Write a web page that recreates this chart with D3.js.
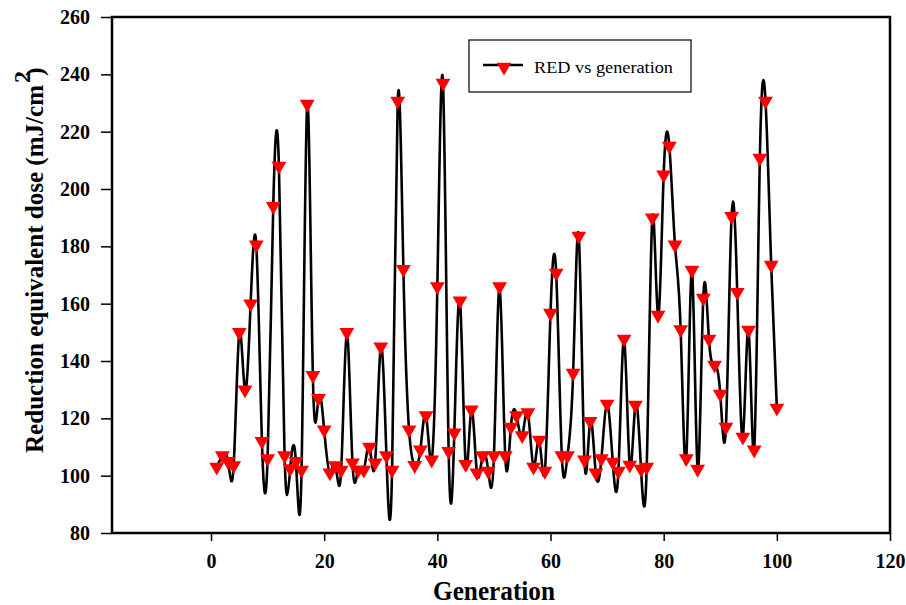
<!DOCTYPE html>
<html>
<head>
<meta charset="utf-8">
<script src="https://cdn.jsdelivr.net/npm/d3@7"></script>
<style>
  body { margin: 0; background: #fff; }
  .serif { font-family: "Liberation Serif"; }
</style>
</head>
<body>
<svg id="chart" width="906" height="605"></svg>
<script>
// generation 1..100
const generations = d3.range(1, 101)

// RED values (mJ/cm2)
const redValues = [
  103, 107, 105, 103.5, 150, 130, 160, 180.5, 112, 106,
  194, 208, 107, 102.5, 105, 102, 229.6, 135, 127, 116,
  101, 103.5, 102, 150, 104.5, 102, 102, 110, 104.5, 145,
  107, 102, 230.7, 172, 116, 103.6, 109, 121, 105.5, 166,
  237, 108.5, 115, 161, 104, 123, 101, 107, 101.6, 107,
  166, 107, 117, 121, 114, 122, 103, 112.4, 101.6, 156.7,
  170.7, 107, 107, 135.8, 183.6, 105.5, 119, 101, 106, 125,
  104.8, 101.6, 147.7, 103.7, 124.6, 102.3, 103, 190, 156, 205,
  215, 180.5, 151, 106, 171.7, 102.3, 162, 147.7, 138.6, 128.5,
  117, 190.5, 164, 113.5, 150.8, 109, 210.8, 230.7, 173.5, 123.6
]

const xTicks = [0, 20, 40, 60, 80, 100, 120]
const yTicks = [80, 100, 120, 140, 160, 180, 200, 220, 240, 260]

const data = generations.map((g, i) => ({ g: g, v: redValues[i] }))

const plot = { left: 112, right: 890, top: 17, bottom: 533 }
const svg = d3.select('#chart')

const x = d3.scaleLinear().domain([-17.5, 120]).range([plot.left, plot.right])
const y = d3.scaleLinear().domain([80, 260]).range([plot.bottom, plot.top])

// axes
const xAxis = svg.append('g')
  .attr('transform', `translate(0, ${plot.bottom})`)
  .call(d3.axisBottom(x).tickValues(xTicks).tickSize(8).tickPadding(13).tickFormat(d3.format('d')))
xAxis.attr('font-family', null)
xAxis.select('.domain').remove()
xAxis.selectAll('line').attr('stroke', '#000').attr('stroke-width', 1.5)
xAxis.selectAll('text').attr('class', 'serif').attr('font-size', 20).attr('font-weight', 'bold').attr('fill', '#000')

const yAxis = svg.append('g')
  .attr('transform', `translate(${plot.left}, 0)`)
  .call(d3.axisLeft(y).tickValues(yTicks).tickSize(11).tickPadding(11))
yAxis.attr('font-family', null)
yAxis.select('.domain').remove()
yAxis.selectAll('line').attr('stroke', '#000').attr('stroke-width', 1.5)
yAxis.selectAll('text').attr('class', 'serif').attr('font-size', 20).attr('font-weight', 'bold').attr('fill', '#000')

// frame
svg.append('rect')
  .attr('x', plot.left)
  .attr('y', plot.top)
  .attr('width', plot.right - plot.left)
  .attr('height', plot.bottom - plot.top)
  .attr('fill', 'none')
  .attr('stroke', '#000')
  .attr('stroke-width', 2.5)

// spline curve through the points
const line = d3.line()
  .x(d => x(d.g))
  .y(d => y(d.v))
  .curve(d3.curveNatural)

svg.append('path')
  .datum(data)
  .attr('d', line)
  .attr('fill', 'none')
  .attr('stroke', '#000')
  .attr('stroke-width', 2.6)

// down triangles
const tri = d3.symbol().type(d3.symbolTriangle).size(95)
svg.append('g')
  .selectAll('path')
  .data(data)
  .join('path')
  .attr('d', tri)
  .attr('transform', d => `translate(${x(d.g)}, ${y(d.v)}) rotate(180)`)
  .attr('fill', '#ff0000')

// axis titles (squeezed a bit like the original)
svg.append('text')
  .attr('class', 'serif')
  .attr('x', 433)
  .attr('y', 600)
  .attr('font-size', 27)
  .attr('font-weight', 'bold')
  .attr('textLength', 122)
  .attr('lengthAdjust', 'spacingAndGlyphs')
  .text('Generation')

const yTitle = svg.append('text')
  .attr('class', 'serif')
  .attr('transform', 'translate(43, 453) rotate(-90)')
  .attr('font-size', 26)
  .attr('font-weight', 'bold')
yTitle.append('tspan')
  .attr('x', 0)
  .attr('textLength', 368)
  .attr('lengthAdjust', 'spacingAndGlyphs')
  .text('Reduction equivalent dose (mJ/cm')
yTitle.append('tspan').attr('x', 370).attr('dy', -13).attr('font-size', 24).text('2')
yTitle.append('tspan').attr('x', 377).attr('dy', 13).text(')')

// legend
const legend = svg.append('g').attr('transform', 'translate(469, 40)')
legend.append('rect')
  .attr('width', 222)
  .attr('height', 52)
  .attr('fill', '#fff')
  .attr('stroke', '#000')
  .attr('stroke-width', 1.2)
legend.append('line')
  .attr('x1', 14).attr('x2', 54)
  .attr('y1', 25).attr('y2', 25)
  .attr('stroke', '#000')
  .attr('stroke-width', 2.6)
legend.append('path')
  .attr('d', tri)
  .attr('transform', 'translate(35, 27) rotate(180)')
  .attr('fill', '#ff0000')
legend.append('text')
  .attr('class', 'serif')
  .attr('x', 65)
  .attr('y', 33)
  .attr('font-size', 17)
  .attr('fill', '#000')
  .attr('textLength', 139)
  .attr('lengthAdjust', 'spacingAndGlyphs')
  .text('RED vs generation')
</script>
</body>
</html>
